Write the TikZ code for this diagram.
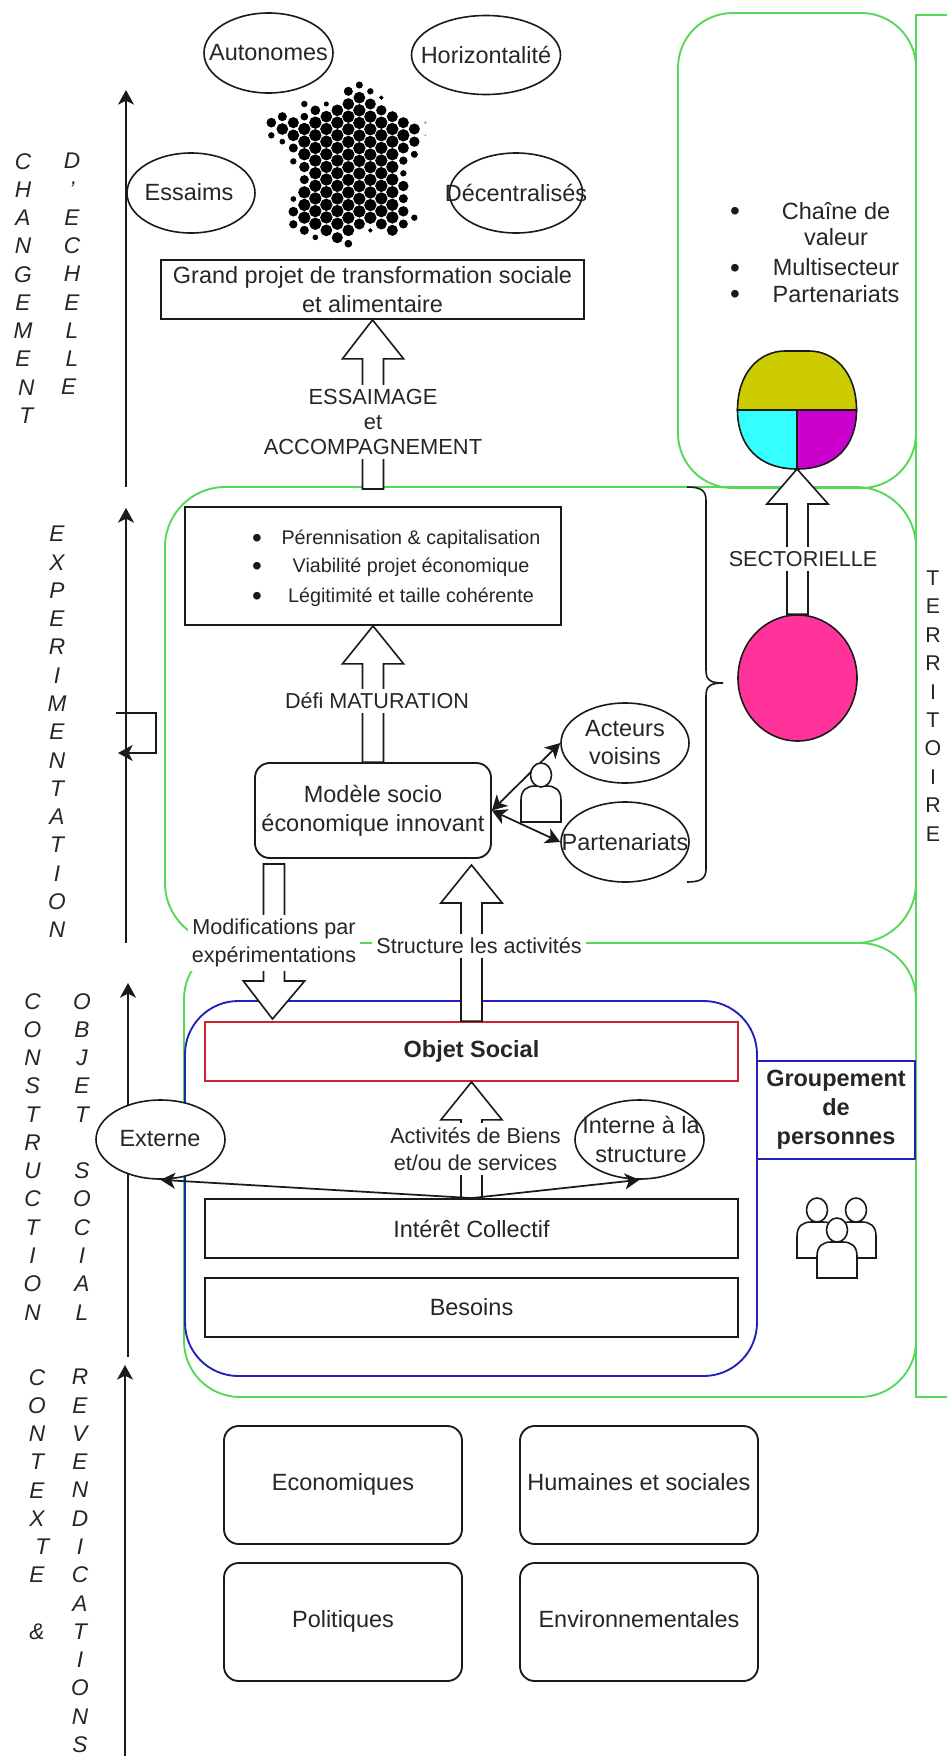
\documentclass[tikz,border=0pt]{standalone}
\usepackage{fontspec}
\setmainfont{Liberation Sans}
\usetikzlibrary{shapes.geometric,arrows.meta,calc}
\definecolor{gr}{HTML}{55D855}
\definecolor{bl}{HTML}{2222BB}
\definecolor{rd}{HTML}{CC2233}
\definecolor{ink}{HTML}{1A1A1A}
\definecolor{txt}{HTML}{262626}
\definecolor{olive}{HTML}{CCCC00}
\definecolor{cy}{HTML}{33FFFF}
\definecolor{mg}{HTML}{CC00CC}
\definecolor{pk}{HTML}{FF3399}
\newcommand{\fsA}{\fontsize{17.6}{21.7}\selectfont}
\newcommand{\fsB}{\fontsize{16.2}{20.6}\selectfont}
\newcommand{\fsC}{\fontsize{14.8}{18}\selectfont}
\newcommand{\fsV}{\fontsize{17}{21.2}\selectfont\itshape}
\tikzset{
  wh/.style 2 args={minimum width=#1*0.75pt,minimum height=#2*0.75pt,inner sep=0pt},
  bx/.style={draw=ink,line width=1.4pt,rectangle},
  rbx/.style={draw=ink,line width=1.4pt,rectangle,rounded corners=11pt},
  zone/.style={draw=gr,line width=1.4pt,rectangle},
  ell/.style={draw=ink,line width=1.2pt,ellipse,fill=white},
  tx/.style={text=txt,font=\fsA,align=center,inner sep=0pt},
  sl/.style={text height=12.6pt,text depth=3.8pt},
  lbl/.style={text=txt,font=\fsB,align=center,fill=white,inner sep=3pt},
  li/.style={text=txt,font=\fsC,inner sep=0pt},
  bul/.style={text=ink,font=\fontsize{21}{21}\selectfont,inner sep=0pt},
  vert/.style={text=txt,font=\fsV,align=center,inner sep=0pt,anchor=north},
  thin/.style={draw=ink,line width=1.3pt,-{Stealth[length=11pt,width=12pt,inset=3pt]}},
  both/.style={draw=ink,line width=1.3pt,{Stealth[length=11pt,width=12pt,inset=3pt]}-{Stealth[length=11pt,width=12pt,inset=3pt]}},
  block/.style={draw=ink,line width=1.2pt,fill=white,line join=miter},
  body/.style={draw=ink,line width=1.2pt,fill=white}
}
% start, tip, signed head length in px
\newcommand{\blockarrow}[3]{%
  \draw[block] let \p1=(#1),\p2=(#2) in
    ({\x1-7.9pt},\y1) -- ({\x1-7.9pt},{\y2-(#3)*0.75pt}) -- ({\x1-23pt},{\y2-(#3)*0.75pt})
    -- (\x2,\y2) -- ({\x1+23pt},{\y2-(#3)*0.75pt}) -- ({\x1+7.9pt},{\y2-(#3)*0.75pt})
    -- ({\x1+7.9pt},\y1) -- cycle;}
% name, x, head y, body top, body bottom
\newcommand{\persona}[5]{%
  \draw[body] ({#2-20},#5) -- ({#2-20},{#4+14}) .. controls ({#2-20},{#4+4}) and ({#2-14},#4) .. ({#2-6},#4)
    -- ({#2+6},#4) .. controls ({#2+14},#4) and ({#2+20},{#4+4}) .. ({#2+20},{#4+14}) -- ({#2+20},#5) -- cycle;
  \node[ell,wh={21}{24}] (#1) at (#2,#3) {};}
\begin{document}
\begin{tikzpicture}[x=0.75pt,y=-0.75pt]
\useasboundingbox (0,0) rectangle (947,1756);
\fill[white] (0,0) rectangle (947,1756);

% zones
\node[zone,wh={238}{475},rounded corners=41pt] (z1) at (797,250.5) {};
\node[zone,wh={751}{456},rounded corners=45pt] (z2) at (540.5,715) {};
\node[zone,wh={732}{454},rounded corners=42pt] (z3) at (550,1170) {};
\coordinate (tA) at (947,15);
\coordinate (tB) at (916,15);
\coordinate (tC) at (916,1397);
\coordinate (tD) at (947,1397);
\draw[draw=gr,line width=1.4pt] (tA) -- (tB) -- (tC) -- (tD);
\node[tx,font=\fontsize{16}{21.3}\selectfont] (terr) at (933,706) {T\\E\\R\\R\\I\\T\\O\\I\\R\\E};
\node[draw=bl,line width=1.4pt,rectangle,wh={572}{375},rounded corners=40pt] (gp) at (471,1188.5) {};

% axes
\coordinate (a1s) at (126,487); \coordinate (a1e) at (126,90);
\coordinate (a2s) at (126,943); \coordinate (a2e) at (126,508);
\coordinate (a3s) at (128,1357); \coordinate (a3e) at (128,983);
\coordinate (a4s) at (125,1756); \coordinate (a4e) at (125,1365);
\draw[thin] (a1s) -- (a1e);
\draw[thin] (a2s) -- (a2e);
\draw[thin] (a3s) -- (a3e);
\draw[thin] (a4s) -- (a4e);
\coordinate (l1) at (116,713); \coordinate (l2) at (156,713);
\coordinate (l3) at (156,753); \coordinate (l4) at (118,753);
\draw[thin] (l1) -- (l2) -- (l3) -- (l4);

% vertical words
\node[vert] (v1) at (23,153) {C\\H\\A\\N\\G\\E\\M\\E\\\hspace{5pt}N\\\hspace{5pt}T};
\node[vert] (v2) at (72,153) {D\\'\\E\\C\\H\\E\\L\\L\\\hspace{-5pt}E};
\node[vert] (v3) at (57,526) {E\\X\\P\\E\\R\\I\\M\\E\\N\\T\\A\\T\\I\\O\\N};
\node[vert] (v4) at (32.5,993) {C\\O\\N\\S\\T\\R\\U\\C\\T\\I\\O\\N};
\node[vert] (v5) at (82,993) {O\\B\\J\\E\\T\\~\\S\\O\\C\\I\\A\\L};
\node[vert] (v6) at (37,1369) {C\\O\\N\\T\\E\\X\\\hspace{8pt}T\\E\\~\\\&};
\node[vert] (v7) at (80,1369) {R\\E\\V\\E\\N\\D\\I\\C\\A\\T\\I\\O\\N\\S};

% top ellipses
\node[ell,wh={129}{80}] (auto) at (268.5,53) {};
\node[tx] at (auto) {Autonomes};
\node[ell,wh={149}{79}] (hori) at (486,55) {};
\node[tx] at (hori) {Horizontalité};
\node[ell,wh={128}{80}] (ess) at (191,193) {};
\node[tx] at (189,192) {Essaims};
\node[ell,wh={133}{80}] (dec) at (516,193) {};
\node[tx] at (dec) {Décentralisés};

% map of dots
\begin{scope}[shift={(255,75)},x=0.25pt,y=-0.25pt]
\filldraw[black,line width=0.7pt]
  (49,143) circle[radius=13] (49,181) circle[radius=8]
  (82,125) circle[radius=12] (82,162) circle[radius=16] (82,200) circle[radius=7]
  (115,143) circle[radius=15] (115,181) circle[radius=16] (115,219) circle[radius=12] (115,259) circle[radius=8]
  (115,372) circle[radius=7] (115,410) circle[radius=13] (115,448) circle[radius=11]
  (148,87) circle[radius=8] (148,125) circle[radius=10] (148,276) circle[radius=14] (148,314) circle[radius=12]
  (148,466) circle[radius=12]
  (181,106) circle[radius=13] (181,487) circle[radius=7]
  (214,87) circle[radius=6] (214,125) circle[radius=16] (214,466) circle[radius=16]
  (247,106) circle[radius=16] (247,488) circle[radius=15]
  (280,49) circle[radius=12] (280,87) circle[radius=16] (280,466) circle[radius=16] (280,506) circle[radius=10]
  (313,30) circle[radius=9] (313,68) circle[radius=16] (313,447) circle[radius=15]
  (346,49) circle[radius=8] (346,87) circle[radius=15] (346,466) circle[radius=5]
  (379,68) circle[radius=5] (379,106) circle[radius=14] (379,447) circle[radius=15]
  (412,125) circle[radius=15] (412,466) circle[radius=15]
  (445,143) circle[radius=15] (445,181) circle[radius=17] (445,219) circle[radius=15] (445,257) circle[radius=11]
  (445,295) circle[radius=8] (445,333) circle[radius=14] (445,371) circle[radius=12] (445,409) circle[radius=14] (445,447) circle[radius=12]
  (478,162) circle[radius=15] (478,200) circle[radius=14] (478,238) circle[radius=9] (478,428) circle[radius=8];
\fill[black!40] (511,143) circle[radius=4] (511,181) circle[radius=3];
\foreach \cx/\cy/\cn in {148/162/2,148/352/2,181/143/8,214/162/7,247/143/8,280/125/8,313/106/8,346/125/8,379/143/7,412/162/7}{
  \foreach \ci in {0,...,\cn}{\filldraw[black,line width=0.7pt] (\cx,{\cy+\ci*37.9}) circle[radius=17];}
}
\end{scope}

% boxes
\node[bx,wh={423}{59},tx,draw=ink] (grand) at (372.5,289.5) {Grand projet de transformation sociale\\et alimentaire};
\node[bx,wh={376}{118}] (peren) at (373,566) {};
\node[bul] (b1) at (257,541) {•};
\node[bul] (b2) at (257,569) {•};
\node[bul] (b3) at (257,599) {•};
\node[li] (p1) at (411,539) {Pérennisation \& capitalisation};
\node[li] (p2) at (411,567) {Viabilité projet économique};
\node[li] (p3) at (411,597) {Légitimité et taille cohérente};
\node[rbx,wh={236}{95},tx,draw=ink] (model) at (373,810.5) {Modèle socio\\économique innovant};
\node[draw=rd,line width=1.4pt,rectangle,wh={533}{59},tx,font=\fsA\bfseries] (obj) at (471.5,1051.5) {Objet Social};
\node[bx,wh={533}{59},tx,draw=ink] (inter) at (471.5,1228.5) {Intérêt Collectif};
\node[bx,wh={533}{59},tx,draw=ink] (bes) at (471.5,1307.5) {Besoins};
\node[draw=bl,line width=1.4pt,rectangle,wh={158}{98},tx,font=\fsA\bfseries] (grp) at (836,1110) {Groupement\\de\\personnes};

% list in the top right zone
\node[bul] (c0) at (735,214) {•};
\node[bul] (c1) at (735,271) {•};
\node[bul] (c2) at (735,297) {•};
\node[tx,font=\fontsize{17.6}{20}\selectfont] (c3) at (836,224) {Chaîne de\\valeur};
\node[tx] (c4) at (836,267) {Multisecteur};
\node[tx] (c5) at (836,294) {Partenariats};

% sector shapes
\node[wh={119}{118},ellipse] (multi) at (797,410) {};
\coordinate (mL) at (737.5,410); \coordinate (mR) at (856.5,410);
\coordinate (mT) at (797,351); \coordinate (mB) at (797,469);
\path[fill=olive,draw=ink,line width=1.2pt] (mL) .. controls (737.5,372) and (760,351) .. (785,351) -- (809,351) .. controls (834,351) and (856.5,372) .. (mR) -- cycle;
\path[fill=cy,draw=ink,line width=1.2pt] (mL) .. controls (737.5,445) and (758,469) .. (mB) -- (797,410) -- cycle;
\path[fill=mg,draw=ink,line width=1.2pt] (mR) .. controls (856.5,445) and (836,469) .. (mB) -- (797,410) -- cycle;
\node[ell,wh={119}{126},fill=pk] (pink) at (797.5,678) {};

% block arrows
\coordinate (aE) at (373,489);
\coordinate (aM) at (274,864);
\coordinate (aMt) at (272.5,1019);
\coordinate (aS) at (471.5,865);
\blockarrow{aE}{grand.south}{39}
\blockarrow{model.north}{peren.south}{38}
\blockarrow{aM}{aMt}{-38}
\blockarrow{obj.north}{aS}{38}
\blockarrow{inter.north}{obj.south}{38}
\blockarrow{pink.north}{mB}{35}

% labels over arrows
\node[lbl,font=\fontsize{16.4}{19.1}\selectfont] (le) at (373,422) {ESSAIMAGE\\et\\ACCOMPAGNEMENT};
\node[lbl] (ld) at (377,701) {Défi MATURATION};
\node[lbl] (lm) at (274,943) {Modifications par\\expérimentations};
\node[lbl] (ls) at (479,946) {Structure les activités};
\node[lbl] (la) at (475.5,1149) {Activités de Biens\\et/ou de services};
\node[lbl] (lt) at (803,559) {SECTORIELLE};

% brace
\coordinate (br1) at (687,487); \coordinate (brt) at (723,683); \coordinate (br2) at (687,882);
\draw[ink,line width=1.2pt] (br1) .. controls (700,487) and (706,490) .. (706,500) -- (706,670) .. controls (706,680) and (710,683) .. (brt)
  .. controls (710,683) and (706,686) .. (706,696) -- (706,869) .. controls (706,879) and (700,882) .. (br2);

% small ellipses
\node[ell,wh={128}{80}] (act) at (625,743) {};
\node[tx] at (625,742.5) {Acteurs\\voisins};
\node[ell,wh={128}{80}] (part) at (625,842) {};
\node[tx] at (625,842) {Partenariats};
\draw[both] (model.east) -- (act.west);
\draw[both] (model.east) -- (part.west);
\persona{pers}{541}{775}{786}{822}

\node[ell,wh={129}{79}] (ext) at (160.5,1139.5) {};
\node[tx] at (160,1139) {Externe};
\node[ell,wh={129}{79}] (int) at (639.5,1139.5) {};
\node[tx] at (641,1139.5) {Interne à la\\structure};
\draw[thin] (inter.north) -- (ext.south);
\draw[thin] (inter.north) -- (int.south);

\persona{ppl1}{817}{1210}{1222}{1258}
\persona{ppl2}{856}{1210}{1222}{1258}
\persona{ppl3}{837}{1230}{1242}{1278}

% bottom boxes
\node[rbx,wh={238}{118},tx,sl,draw=ink] (eco) at (343,1485) {Economiques};
\node[rbx,wh={238}{118},tx,sl,draw=ink] (hum) at (639,1485) {Humaines et sociales};
\node[rbx,wh={238}{118},tx,sl,draw=ink] (pol) at (343,1622) {Politiques};
\node[rbx,wh={238}{118},tx,sl,draw=ink] (env) at (639,1622) {Environnementales};
\end{tikzpicture}
\end{document}
